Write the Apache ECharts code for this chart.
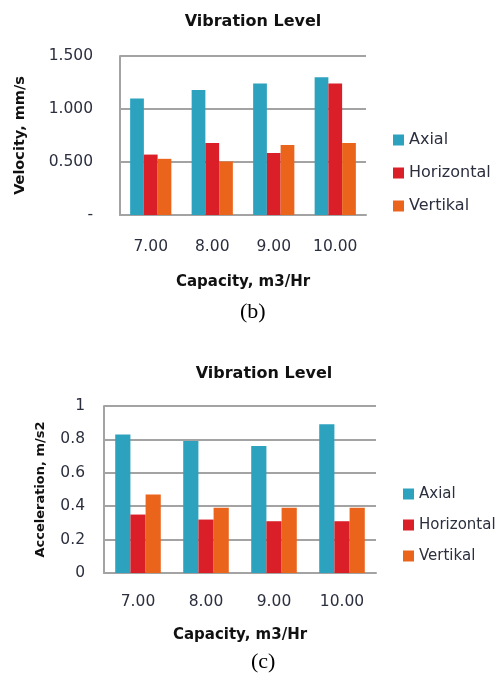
<!DOCTYPE html>
<html>
<head>
<meta charset="utf-8">
<script src="https://cdn.jsdelivr.net/npm/echarts@6/dist/echarts.min.js"></script>
<style>
html,body{margin:0;padding:0;background:#fff;}
#c{width:496px;height:675px;}
</style>
</head>
<body>
<div id="c"></div>
<script>
// ---- data ----
const categories = ['7.00', '8.00', '9.00', '10.00'];
const seriesNames = ['Axial', 'Horizontal', 'Vertikal'];
// (b) velocity, mm/s
const velAxial = [1.10, 1.18, 1.24, 1.30];
const velHorizontal = [0.57, 0.68, 0.585, 1.24];
const velVertikal = [0.53, 0.505, 0.66, 0.68];
// (c) acceleration, m/s2
const accAxial = [0.83, 0.79, 0.76, 0.89];
const accHorizontal = [0.35, 0.32, 0.31, 0.31];
const accVertikal = [0.47, 0.39, 0.39, 0.39];
// tick labels
const velTicks = ['-', '0.500', '1.000', '1.500'];
const accTicks = ['0', '0.2', '0.4', '0.6', '0.8', '1'];

const colors = ['#2CA2BF', '#DA1F28', '#EB641B'];
const txt = '#2b2f3e';
const font = 'DejaVu Sans';
const lineCol = '#a3a3a3';

const chart = echarts.init(document.getElementById('c'), null, {renderer: 'canvas'});

function yAxis(gridIndex, max, interval, ticks, name, nameSize, nameGap, margin) {
  return {
    type: 'value', gridIndex, min: 0, max, interval,
    name, nameLocation: 'middle', nameGap, nameRotate: 90,
    nameTextStyle: {fontFamily: font, fontWeight: 'bold', fontSize: nameSize, color: '#111'},
    axisLine: {show: true, lineStyle: {color: lineCol, width: 2}},
    axisTick: {show: false},
    splitLine: {show: true, lineStyle: {color: lineCol, width: 2}},
    axisLabel: {
      margin, fontFamily: font, fontSize: 15.5, color: txt,
      formatter: v => ticks[Math.round(v / interval)]
    }
  };
}
function xAxis(gridIndex, nameGap, margin) {
  return {
    type: 'category', gridIndex, data: categories,
    name: 'Capacity, m3/Hr', nameLocation: 'middle', nameGap,
    nameTextStyle: {fontFamily: font, fontWeight: 'bold', fontSize: 15, color: '#111'},
    axisLine: {show: true, lineStyle: {color: lineCol, width: 2}},
    axisTick: {show: false},
    axisLabel: {margin, fontFamily: font, fontSize: 15.5, color: txt}
  };
}
function bars(idx, data, i) {
  return {
    name: seriesNames[i], type: 'bar', xAxisIndex: idx, yAxisIndex: idx,
    data, barGap: '0%', barCategoryGap: '33%',
    itemStyle: {color: colors[i]}, animation: false
  };
}
function legend(left, top, gap, size) {
  return {
    orient: 'vertical', left, top, padding: 0, itemGap: gap, itemWidth: 11, itemHeight: 11,
    icon: 'rect', data: seriesNames,
    textStyle: {fontFamily: font, fontSize: size, color: txt, lineHeight: 16}
  };
}

chart.setOption({
  animation: false,
  color: colors,
  title: [
    {text: 'Vibration Level', left: 248, top: 9, textAlign: 'center',
     textStyle: {fontFamily: font, fontWeight: 'bold', fontSize: 16, color: '#111'}},
    {text: 'Vibration Level', left: 259, top: 361, textAlign: 'center',
     textStyle: {fontFamily: font, fontWeight: 'bold', fontSize: 16, color: '#111'}}
  ],
  legend: [legend(393, 132, 17, 16), legend(403, 486, 15, 15)],
  grid: [
    {left: 120, top: 56, width: 246, height: 159},
    {left: 104, top: 406, width: 272, height: 167}
  ],
  xAxis: [xAxis(0, 60, 24), xAxis(1, 55, 21)],
  yAxis: [
    yAxis(0, 1.5, 0.5, velTicks, 'Velocity, mm/s', 14.5, 92, 27),
    yAxis(1, 1, 0.2, accTicks, 'Acceleration, m/s2', 13, 57, 19)
  ],
  series: [
    bars(0, velAxial, 0), bars(0, velHorizontal, 1), bars(0, velVertikal, 2),
    bars(1, accAxial, 0), bars(1, accHorizontal, 1), bars(1, accVertikal, 2)
  ],
  graphic: [
    {type: 'text', left: 240, top: 301, style: {text: '(b)', font: '22px "Liberation Serif"', fill: '#000'}},
    {type: 'text', left: 251, top: 651, style: {text: '(c)', font: '22px "Liberation Serif"', fill: '#000'}}
  ]
});
</script>
</body>
</html>
